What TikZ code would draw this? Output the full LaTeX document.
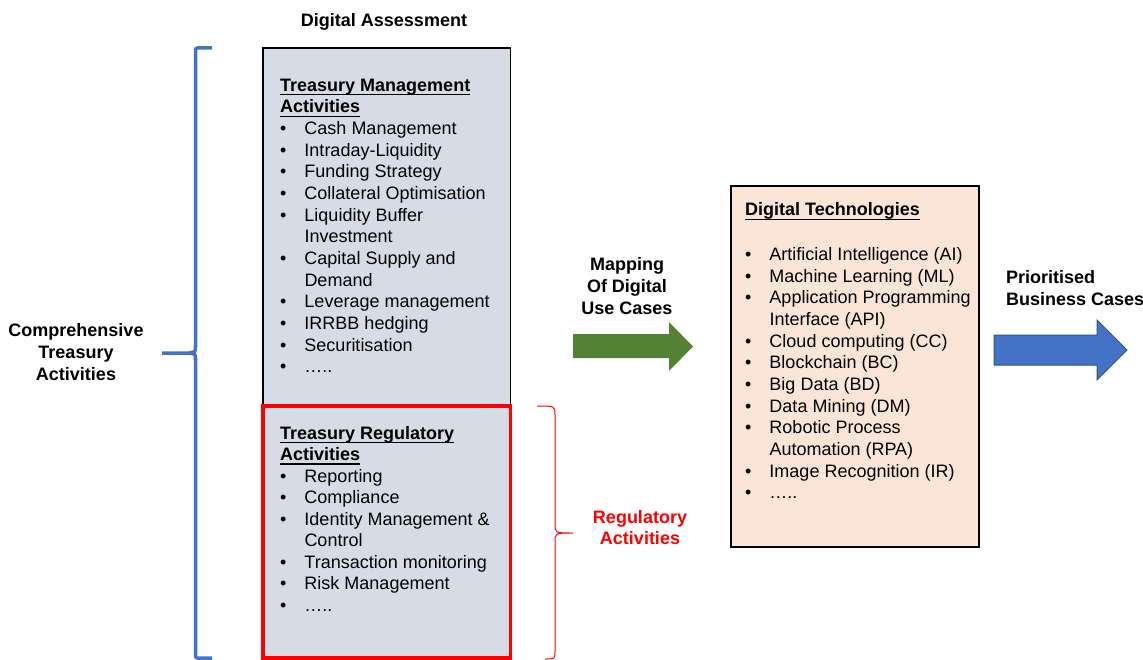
\documentclass[tikz,border=0pt]{standalone}
\usepackage{fontspec}
\setmainfont{Liberation Sans}
\definecolor{grayfill}{HTML}{D6DCE5}
\definecolor{peach}{HTML}{FBE5D6}
\definecolor{arrowgreen}{HTML}{548235}
\definecolor{blueA}{HTML}{4472C4}
\definecolor{blueB}{HTML}{2F528F}
\newsavebox\ulbox
\newcommand\myul[1]{\sbox\ulbox{#1}\rlap{\rule[-4pt]{\wd\ulbox}{1.4pt}}\usebox\ulbox}
\newcommand\btitle[1]{\myul{\bfseries #1}}
\newcommand\bitem[1]{\makebox[24.3pt][l]{•}#1}
\newcommand\bcont[1]{\hspace*{24.3pt}#1}
\begin{document}
\begin{tikzpicture}[x=1pt,y=-1pt,
  box/.style={anchor=north west, inner sep=0pt, outer sep=0pt},
  line/.style={anchor=base west, inner sep=0pt, font=\fontsize{18}{21.7}\selectfont},
  ctext/.style={anchor=base, inner sep=0pt, font=\fontsize{18}{21.7}\selectfont\bfseries},
  lbold/.style={anchor=base west, inner sep=0pt, font=\fontsize{18}{21.7}\selectfont\bfseries}]
\useasboundingbox (0,0) rectangle (1143,660);
% boxes
\node[box, fill=grayfill, draw=black, line width=1.5pt, minimum width=247.5pt, minimum height=610pt] (tmbox) at (263,48) {};
\node[box, fill=grayfill, draw=red, line width=3.5pt, minimum width=247.5pt, minimum height=252pt] (regbox) at (263,406) {};
\node[box, fill=peach, draw=black, line width=1.5pt, minimum width=248pt, minimum height=361pt] (dtbox) at (731,186) {};
% top list
\foreach \txt [count=\k from 0] in {{\btitle{Treasury Management}}, {\btitle{Activities}}, {\bitem{Cash Management}}, {\bitem{Intraday-Liquidity}}, {\bitem{Funding Strategy}}, {\bitem{Collateral Optimisation}}, {\bitem{Liquidity Buffer}}, {\bcont{Investment}}, {\bitem{Capital Supply and}}, {\bcont{Demand}}, {\bitem{Leverage management}}, {\bitem{IRRBB hedging}}, {\bitem{Securitisation}}, {\bitem{…..}}}
  \node[line] (tm\k) at (280,{91.3+21.65*\k}) {\txt};
% regulatory list
\foreach \txt [count=\k from 0] in {{\btitle{Treasury Regulatory}}, {\btitle{Activities}}, {\bitem{Reporting}}, {\bitem{Compliance}}, {\bitem{Identity Management \&}}, {\bcont{Control}}, {\bitem{Transaction monitoring}}, {\bitem{Risk Management}}, {\bitem{…..}}}
  \node[line] (tr\k) at (280,{439+21.5*\k}) {\txt};
% digital technologies
\node[line] (dttitle) at (745,216) {\btitle{Digital Technologies}};
\foreach \txt [count=\k from 0] in {{\bitem{Artificial Intelligence (AI)}}, {\bitem{Machine Learning (ML)}}, {\bitem{Application Programming}}, {\bcont{Interface (API)}}, {\bitem{Cloud computing (CC)}}, {\bitem{Blockchain (BC)}}, {\bitem{Big Data (BD)}}, {\bitem{Data Mining (DM)}}, {\bitem{Robotic Process}}, {\bcont{Automation (RPA)}}, {\bitem{Image Recognition (IR)}}, {\bitem{…..}}}
  \node[line] (dt\k) at (745,{260.5+21.65*\k}) {\txt};
% headings and labels
\node[ctext] (da) at (384,26.7) {Digital Assessment};
\foreach \txt [count=\k from 0] in {Comprehensive, Treasury, Activities}
  \node[ctext] (ct\k) at (76,{336.7+22*\k}) {\txt};
\foreach \txt [count=\k from 0] in {Mapping, Of Digital, Use Cases}
  \node[ctext] (mp\k) at (627,{270.7+21.8*\k}) {\txt};
\foreach \txt [count=\k from 0] in {Prioritised, Business Cases}
  \node[lbold] (pb\k) at (1006,{284+21.5*\k}) {\txt};
\foreach \txt [count=\k from 0] in {Regulatory, Activities}
  \node[ctext, text=red] (ra\k) at (640,{523+21.5*\k}) {\txt};
% arrows
\fill[arrowgreen] (573,334) -- (669,334) -- (669,322) -- (693,346.5) -- (669,371) -- (669,358) -- (573,358) -- cycle;
\filldraw[fill=blueA, draw=blueB, line width=1pt] (994,335) -- (1097,335) -- (1097,320) -- (1127,350) -- (1097,380) -- (1097,365) -- (994,365) -- cycle;
% blue brace
\draw[blueA, line width=3.5pt, rounded corners=2pt] (212,48) -- (195.5,48) -- (195.5,347);
\draw[blueA, line width=3.5pt] (195.5,346) .. controls (195.5,352) .. (189,353) -- (162,353);
\draw[blueA, line width=3.5pt] (189,353) .. controls (195.5,354) .. (195.5,360);
\draw[blueA, line width=3.5pt, rounded corners=2pt] (195.5,358) -- (195.5,658) -- (212,658);
% red brace
\draw[red, line width=1pt] (537,406) .. controls (555,406) .. (555,415) -- (555,524) .. controls (555,533) .. (573,533) .. controls (555,533) .. (555,542) -- (555,651) .. controls (555,659) .. (545,659);
\end{tikzpicture}
\end{document}
